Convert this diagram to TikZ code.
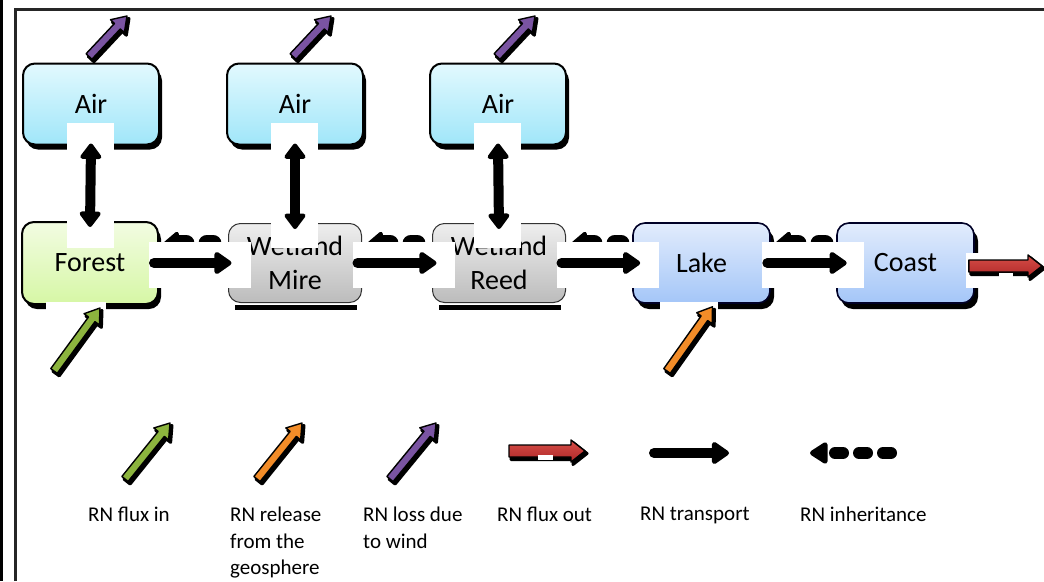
\documentclass[tikz,border=0pt]{standalone}
\usepackage{fontspec}
\setmainfont{Carlito}
\usetikzlibrary{arrows.meta,calc}
\definecolor{airtop}{RGB}{226,249,254}
\definecolor{airbot}{RGB}{160,230,249}
\definecolor{fortop}{RGB}{242,252,226}
\definecolor{forbot}{RGB}{214,247,165}
\definecolor{wettop}{RGB}{238,238,238}
\definecolor{wetbot}{RGB}{188,188,188}
\definecolor{laketop}{RGB}{226,236,252}
\definecolor{lakebot}{RGB}{164,198,248}
\definecolor{pgreen}{RGB}{140,180,62}
\definecolor{porange}{RGB}{242,140,40}
\definecolor{ppurple}{RGB}{122,84,162}
\definecolor{predtop}{RGB}{214,78,72}
\definecolor{predbot}{RGB}{176,40,40}
\newcommand\blkarrow[5]{% tail, head, shaft half, head half, style
  \coordinate (ba-m) at ($(#2)!14pt!(#1)$);
  \path[#5] ($(#1)!#3!90:(#2)$) -- ($(ba-m)!#3!90:(#2)$) -- ($(ba-m)!#4!90:(#2)$) -- (#2)
    -- ($(ba-m)!#4!-90:(#2)$) -- ($(ba-m)!#3!-90:(#2)$) -- ($(#1)!#3!-90:(#2)$) -- cycle;
}
\newcommand\shadedarrow[5]{% tail, head, shaft half, head half, fill style
  \blkarrow{#1}{#2}{#3}{#4}{fill=black, draw=black, line width=3pt, line join=round, transform canvas={shift={(2pt,-2.5pt)}}}
  \blkarrow{#1}{#2}{#3}{#4}{#5, draw=black, line width=1.4pt, line join=round}
}
\tikzset{
  box/.style={rounded corners=12pt, inner sep=0pt, align=center, font=\fontsize{28}{34}\selectfont},
  airbox/.style={box, minimum width=136pt, minimum height=81pt, draw=black, line width=2pt,
    top color=airtop, bottom color=airbot, preaction={fill=black, transform canvas={shift={(3pt,-5pt)}}}},
  forbox/.style={box, minimum width=136pt, minimum height=82pt, draw=black, line width=2pt,
    top color=fortop, bottom color=forbot, preaction={fill=black, transform canvas={shift={(3pt,-5pt)}}}},
  wetbox/.style={box, minimum width=133pt, minimum height=79pt, draw=black!80, line width=1pt,
    top color=wettop, bottom color=wetbot},
  lakebox/.style={box, minimum width=137pt, minimum height=80pt, draw=black!85!blue, line width=1.6pt,
    top color=laketop, bottom color=lakebot, preaction={fill=black, transform canvas={shift={(4pt,-6pt)}}}},
  transport/.style={line width=10pt, line cap=round, -{Triangle[width=25pt,length=19pt,round]}},
  biarrow/.style={line width=10pt, {Triangle[width=24pt,length=17pt,round]}-{Triangle[width=24pt,length=17pt,round]}},
  inherit/.style={line width=12pt, line cap=round, dash pattern=on 8pt off 16pt, -{Triangle[width=24pt,length=20pt,round]}},
  hinherit/.style={line width=17pt, line cap=round, dash pattern=on 6pt off 21pt, -{Triangle[width=26pt,length=16pt,round]}},
  legtext/.style={anchor=north west, inner sep=0pt, align=left, font=\fontsize{21}{26.5}\selectfont},
  mask/.style={fill=white},
}
\begin{document}
\begin{tikzpicture}[x=1pt, y=-1pt]
\useasboundingbox (0,0) rectangle (1044,581);
% frame
\draw[line width=2.5pt] (1.5,0) -- (1.5,581);
\draw[line width=3pt, black!85] (15,581) -- (15,9) -- (1044,9);

% hidden inheritance arrows (under boxes)
\coordinate (i1s) at (213,243); \coordinate (i1e) at (164,243);
\coordinate (i2s) at (417,243); \coordinate (i2e) at (368,243);
\coordinate (i3s) at (621,243); \coordinate (i3e) at (572,243);
\coordinate (i4s) at (825,243); \coordinate (i4e) at (776,243);
\foreach \s/\e in {i1s/i1e,i2s/i2e,i3s/i3e,i4s/i4e} \draw[hinherit] (\s) -- (\e);

% boxes
\node[airbox] (air1) at (91,104) {Air};
\node[airbox] (air2) at (295,104) {Air};
\node[airbox] (air3) at (498,104) {Air};
\node[forbox] (forest) at (90,263) {Forest};
\fill[black] (235,305) rectangle (357,310);
\fill[black] (439,305) rectangle (561,310);
\node[wetbox] (mire) at (295,263) {Wetland\\Mire};
\node[wetbox] (reed) at (499,263) {Wetland\\Reed};
\node[lakebox] (lake) at (701.5,263) {Lake};
\node[lakebox] (coast) at (905.5,263) {Coast};

% white label backgrounds of the connectors
\foreach \c in {91,295,498} \fill[mask] (\c-24,123) rectangle (\c+23,248);
\foreach \x in {149,353,557,762} \fill[mask] (\x,242) rectangle (\x+102,288);
\fill[mask] (966,253) rectangle (1044,288);
\fill[mask] (46,302) rectangle (106,380);
\fill[mask] (660,302) rectangle (718,380);

% air exchange
\draw[biarrow] ([yshift=2pt]air1.south) -- ([yshift=-6pt]forest.north);
\draw[biarrow] ([yshift=2pt]air2.south) -- ([yshift=-6pt]mire.north);
\draw[biarrow] ([yshift=2pt]air3.south) -- ([yshift=-6pt]reed.north);

% transport
\draw[transport] ([xshift=-5pt]forest.east) -- ([xshift=3.5pt]mire.west);
\draw[transport] ([xshift=-4.5pt]mire.east) -- ([xshift=4.5pt]reed.west);
\draw[transport] ([xshift=-4.5pt]reed.east) -- ([xshift=8pt]lake.west);
\draw[transport] ([xshift=-3.5pt]lake.east) -- ([xshift=10.5pt]coast.west);

% loss to wind
\coordinate (w1t) at ([xshift=-2pt,yshift=6pt]air1.north); \coordinate (w1h) at (127,16);
\coordinate (w2t) at ([xshift=-2pt,yshift=6pt]air2.north); \coordinate (w2h) at (331,16);
\coordinate (w3t) at ([xshift=-1pt,yshift=6pt]air3.north); \coordinate (w3h) at (535,16);
\shadedarrow{w1t}{w1h}{4pt}{9.5pt}{fill=ppurple}
\shadedarrow{w2t}{w2h}{4pt}{9.5pt}{fill=ppurple}
\shadedarrow{w3t}{w3h}{4pt}{9.5pt}{fill=ppurple}

% flux in / geosphere release
\coordinate (gt) at (54,371); \coordinate (gh) at ([xshift=10pt,yshift=-3pt]forest.south);
\shadedarrow{gt}{gh}{4pt}{9.5pt}{fill=pgreen}
\coordinate (ot) at (667,371); \coordinate (oh) at ([xshift=11pt,yshift=-3pt]lake.south);
\shadedarrow{ot}{oh}{4pt}{9.5pt}{fill=porange}

% flux out
\coordinate (rt) at ([xshift=-6pt,yshift=-3pt]coast.east); \coordinate (rh) at (1042,266);
\shadedarrow{rt}{rh}{6pt}{11pt}{top color=predtop, bottom color=predbot}
\fill[mask] (999,273) rectangle (1013,277.5);

% legend
\coordinate (lg1t) at (125,479); \coordinate (lg1h) at (170,423);
\coordinate (lg2t) at (257,479); \coordinate (lg2h) at (302,423);
\coordinate (lg3t) at (390,479); \coordinate (lg3h) at (436,423);
\shadedarrow{lg1t}{lg1h}{4pt}{9.5pt}{fill=pgreen}
\shadedarrow{lg2t}{lg2h}{4pt}{9.5pt}{fill=porange}
\shadedarrow{lg3t}{lg3h}{4pt}{9.5pt}{fill=ppurple}
\coordinate (lg4t) at (509,451); \coordinate (lg4h) at (585,451);
\shadedarrow{lg4t}{lg4h}{6pt}{11pt}{top color=predtop, bottom color=predbot}
\fill[mask] (538,455) rectangle (553,460);
\coordinate (lg5t) at (654,453); \coordinate (lg5h) at (729,453);
\draw[transport] (lg5t) -- (lg5h);
\coordinate (lg6t) at (891,453); \coordinate (lg6h) at (810,453);
\draw[inherit] (lg6t) -- (lg6h);

\node[legtext] (t1) at (88,507) {RN flux in};
\node[legtext] (t2) at (230,507) {RN release\\from the\\geosphere};
\node[legtext] (t3) at (363,507) {RN loss due\\to wind};
\node[legtext] (t4) at (497,507) {RN flux out};
\node[legtext] (t5) at (640,507) {RN transport};
\node[legtext] (t6) at (800,507) {RN inheritance};
\end{tikzpicture}
\end{document}
